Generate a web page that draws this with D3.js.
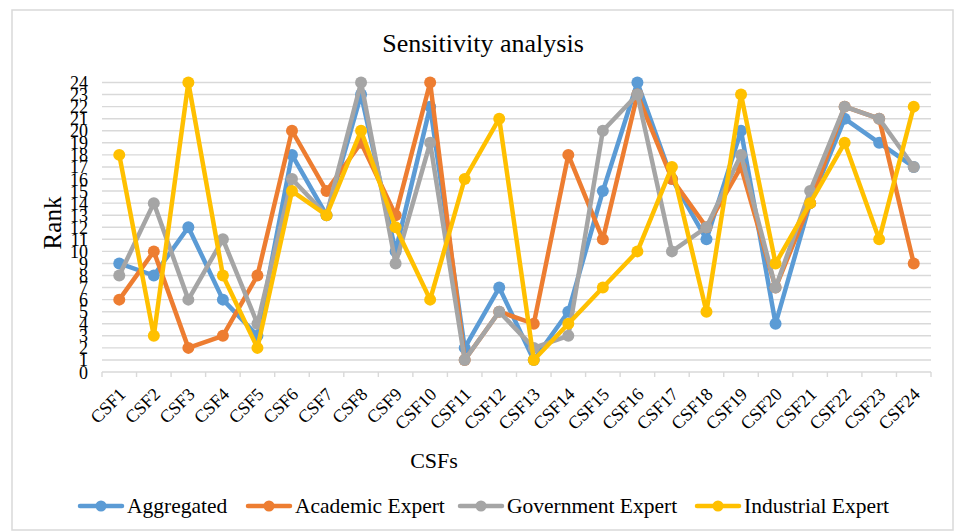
<!DOCTYPE html>
<html>
<head>
<meta charset="utf-8">
<script src="https://cdn.jsdelivr.net/npm/d3@7/dist/d3.min.js"></script>
<style>
  html, body { margin: 0; padding: 0; background: #fff; }
  svg { display: block; }
  text { font-family: "Liberation Serif", "Times New Roman", serif; fill: #000; }
</style>
</head>
<body>
<svg id="chart" width="959" height="532"></svg>
<script>
// Ranks of the 24 critical success factors under each weighting scheme
const categories = ["CSF1","CSF2","CSF3","CSF4","CSF5","CSF6","CSF7","CSF8","CSF9","CSF10","CSF11","CSF12",
                    "CSF13","CSF14","CSF15","CSF16","CSF17","CSF18","CSF19","CSF20","CSF21","CSF22","CSF23","CSF24"];
const aggregated  = [9, 8, 12, 6, 3, 18, 13, 23, 10, 22, 2, 7, 1, 5, 15, 24, 16, 11, 20, 4, 14, 21, 19, 17];
const academic    = [6, 10, 2, 3, 8, 20, 15, 19, 13, 24, 1, 5, 4, 18, 11, 23, 16, 12, 17, 7, 14, 22, 21, 9];
const government  = [8, 14, 6, 11, 4, 16, 13, 24, 9, 19, 1, 5, 2, 3, 20, 23, 10, 12, 18, 7, 15, 22, 21, 17];
const industrial  = [18, 3, 24, 8, 2, 15, 13, 20, 12, 6, 16, 21, 1, 4, 7, 10, 17, 5, 23, 9, 14, 19, 11, 22];
const seriesNames = ["Aggregated", "Academic Expert", "Government Expert", "Industrial Expert"];
const seriesColors = ["#5B9BD5", "#ED7D31", "#A5A5A5", "#FFC000"];
const yTicks = d3.range(0, 25);

const series = [aggregated, academic, government, industrial].map((values, i) => ({
  name: seriesNames[i], color: seriesColors[i], values
}));

const svg = d3.select("#chart");
const plot = { left: 102, right: 931, top: 82.5, bottom: 372 };

// chart frame
svg.append("rect")
  .attr("x", 12).attr("y", 10).attr("width", 941).attr("height", 520)
  .attr("fill", "#fff").attr("stroke", "#d9d9d9").attr("stroke-width", 1.5);

const x = d3.scaleBand().domain(categories).range([plot.left, plot.right]).padding(0);
const y = d3.scaleLinear().domain([0, 24]).range([plot.bottom, plot.top]);
const cx = d => x(d) + x.bandwidth() / 2;

// horizontal gridlines
svg.append("g")
  .selectAll("line")
  .data(yTicks.filter(t => t > 0))
  .join("line")
  .attr("x1", plot.left).attr("x2", plot.right)
  .attr("y1", d => y(d)).attr("y2", d => y(d))
  .attr("stroke", "#d9d9d9").attr("stroke-width", 1.4);

// y axis labels (tall, tightly packed digits)
const yAxis = d3.axisLeft(y).tickValues(yTicks).tickSize(0).tickPadding(0).tickFormat(d3.format("d"));
const gy = svg.append("g").attr("transform", `translate(88,0)`).call(yAxis);
gy.select(".domain").remove();
gy.selectAll("text")
  .style("font-family", '"Liberation Serif", serif')
  .style("font-size", "18px")
  .attr("dy", null)
  .attr("y", 0)
  .attr("transform", "translate(0,6) scale(1,1.1)")
  .attr("fill", "#000");

// x axis with tick marks at category boundaries
const gx = svg.append("g").attr("transform", `translate(0,${plot.bottom})`);
gx.append("line")
  .attr("x1", plot.left).attr("x2", plot.right)
  .attr("stroke", "#d9d9d9").attr("stroke-width", 1.4);
gx.selectAll("line.tick")
  .data(categories.concat(["__end"]))
  .join("line")
  .attr("class", "tick")
  .attr("x1", (d, i) => plot.left + i * x.bandwidth())
  .attr("x2", (d, i) => plot.left + i * x.bandwidth())
  .attr("y1", 0).attr("y2", 5)
  .attr("stroke", "#d9d9d9").attr("stroke-width", 1.4);
gx.selectAll("text")
  .data(categories)
  .join("text")
  .attr("transform", d => `translate(${cx(d) + 3},${19}) rotate(-45)`)
  .attr("text-anchor", "end")
  .attr("dy", "0.35em")
  .style("font-size", "18px")
  .text(d => d);

// series lines and markers
const line = d3.line().x((v, i) => cx(categories[i])).y(v => y(v));
series.forEach(s => {
  const g = svg.append("g");
  g.append("path")
    .attr("d", line(s.values))
    .attr("fill", "none")
    .attr("stroke", s.color)
    .attr("stroke-width", 4.5)
    .attr("stroke-linejoin", "round");
  g.selectAll("circle")
    .data(s.values)
    .join("circle")
    .attr("cx", (v, i) => cx(categories[i]))
    .attr("cy", v => y(v))
    .attr("r", 6)
    .attr("fill", s.color);
});

// title and axis titles
svg.append("text")
  .attr("x", 483).attr("y", 52)
  .attr("text-anchor", "middle")
  .style("font-size", "26px")
  .text("Sensitivity analysis");

svg.append("text")
  .attr("transform", "translate(61,223) rotate(-90)")
  .attr("text-anchor", "middle")
  .style("font-size", "25px")
  .text("Rank");

svg.append("text")
  .attr("x", 434).attr("y", 468)
  .attr("text-anchor", "middle")
  .style("font-size", "22px")
  .text("CSFs");

// legend
const legendX = [80, 248, 460, 697];
const legend = svg.append("g").attr("transform", "translate(0,506)");
series.forEach((s, i) => {
  const g = legend.append("g").attr("transform", `translate(${legendX[i]},0)`);
  g.append("line").attr("x1", 0).attr("x2", 42).attr("y1", 0).attr("y2", 0)
    .attr("stroke", s.color).attr("stroke-width", 4.5).attr("stroke-linecap", "round");
  g.append("circle").attr("cx", 21).attr("cy", 0).attr("r", 5.5).attr("fill", s.color);
  g.append("text").attr("x", 47).attr("y", 0).attr("dy", "0.33em")
    .style("font-size", "21.5px").text(s.name);
});
</script>
</body>
</html>
